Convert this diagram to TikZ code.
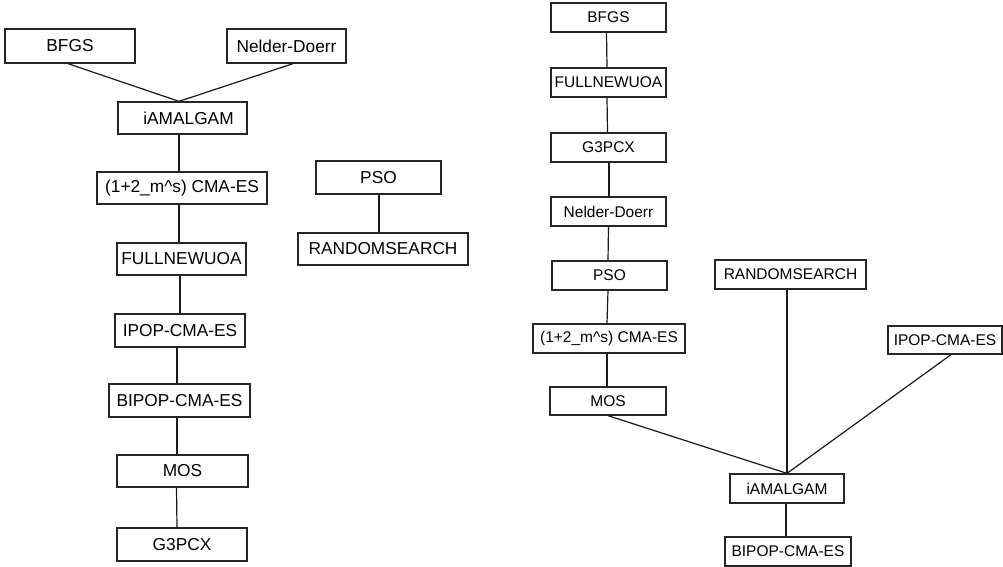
\documentclass[tikz,border=0pt]{standalone}
\usepackage{fontspec}
\setmainfont{Liberation Sans}
\begin{document}
\begin{tikzpicture}[x=1pt,y=-1pt,
  box/.style={draw=black!85,line width=1.3pt,inner sep=0pt,rectangle},
  lbox/.style={box,font=\fontsize{17.3}{20}\selectfont},
  rbox/.style={box,font=\fontsize{15.5}{18}\selectfont},
  conn/.style={draw=black!90,line width=1.2pt}]
\useasboundingbox (0,0) rectangle (1003,567);
% left tree
\node[lbox,minimum width=130,minimum height=34] (lBFGS) at (70,46) {BFGS};
\node[lbox,minimum width=119,minimum height=34] (lND) at (286.5,46) {Nelder-Doerr};
\node[lbox,minimum width=129,minimum height=32] (lIAM) at (182.5,118) {\hspace{12pt}iAMALGAM};
\node[lbox,minimum width=170,minimum height=32] (lCMA) at (182,188) {(1+2\_m\^{}s) CMA-ES};
\node[lbox,minimum width=129,minimum height=32] (lFULL) at (181.5,259) {FULLNEWUOA};
\node[lbox,minimum width=130,minimum height=33] (lIPOP) at (180,330.5) {IPOP-CMA-ES};
\node[lbox,minimum width=141,minimum height=33] (lBIPOP) at (179.5,400.5) {BIPOP-CMA-ES};
\node[lbox,minimum width=131,minimum height=32] (lMOS) at (182.5,471) {MOS};
\node[lbox,minimum width=130,minimum height=33] (lG3) at (182,544.5) {G3PCX};
\node[lbox,minimum width=125,minimum height=33] (lPSO) at (378.5,177.5) {PSO};
\node[lbox,minimum width=170,minimum height=32] (lRS) at (383,249) {RANDOMSEARCH};
\coordinate (lJ) at ([xshift=-3.5]lIAM.north);
\draw[conn] ([xshift=-2]lBFGS.south) -- (lJ);
\draw[conn] ([xshift=6.5]lND.south) -- (lJ);
\draw[conn] ([xshift=-3.5]lIAM.south) -- ([xshift=-3]lCMA.north);
\draw[conn] ([xshift=-3]lCMA.south) -- ([xshift=-2.5]lFULL.north);
\draw[conn] ([xshift=-1.5]lFULL.south) -- ([xshift=0]lIPOP.north);
\draw[conn] ([xshift=-3]lIPOP.south) -- ([xshift=-2.5]lBIPOP.north);
\draw[conn] ([xshift=-2.5]lBIPOP.south) -- ([xshift=-5.5]lMOS.north);
\draw[conn] ([xshift=-6]lMOS.south) -- ([xshift=-5]lG3.north);
\draw[conn] ([xshift=0.5]lPSO.south) -- ([xshift=-4]lRS.north);
% right tree
\node[rbox,minimum width=115,minimum height=29] (rBFGS) at (608.5,17.5) {BFGS};
\node[rbox,minimum width=115,minimum height=29] (rFULL) at (608.5,82.5) {FULLNEWUOA};
\node[rbox,minimum width=115,minimum height=29] (rG3) at (608.5,147.5) {G3PCX};
\node[rbox,minimum width=115,minimum height=29] (rND) at (608.5,211.5) {Nelder-Doerr};
\node[rbox,minimum width=115,minimum height=29] (rPSO) at (609.5,275.5) {PSO};
\node[rbox,minimum width=152,minimum height=29] (rCMA) at (609,338.5) {(1+2\_m\^{}s) CMA-ES};
\node[rbox,minimum width=116,minimum height=28] (rMOS) at (608,401) {MOS};
\node[rbox,minimum width=151,minimum height=29] (rRS) at (790.5,274.5) {RANDOMSEARCH};
\node[rbox,minimum width=114,minimum height=28] (rIPOP) at (945,340) {IPOP-CMA-ES};
\node[rbox,minimum width=114,minimum height=29] (rIAM) at (787,488.5) {iAMALGAM};
\node[rbox,minimum width=126,minimum height=29] (rBIPOP) at (788,551.5) {BIPOP-CMA-ES};
\draw[conn] ([xshift=-2]rBFGS.south) -- ([xshift=-1.5]rFULL.north);
\draw[conn] ([xshift=-1.5]rFULL.south) -- ([xshift=-1]rG3.north);
\draw[conn] ([xshift=0.5]rG3.south) -- ([xshift=0.5]rND.north);
\draw[conn] ([xshift=0]rND.south) -- ([xshift=-1.5]rPSO.north);
\draw[conn] ([xshift=-1.5]rPSO.south) -- ([xshift=-2]rCMA.north);
\draw[conn] ([xshift=-2]rCMA.south) -- ([xshift=-1]rMOS.north);
\coordinate (rJ) at (rIAM.north);
\draw[conn] (rMOS.south) -- (rJ);
\draw[conn] ([xshift=-3.5]rRS.south) -- (rJ);
\draw[conn] ([xshift=6]rIPOP.south) -- (rJ);
\draw[conn] ([xshift=-1]rIAM.south) -- ([xshift=-2]rBIPOP.north);
\end{tikzpicture}
\end{document}
